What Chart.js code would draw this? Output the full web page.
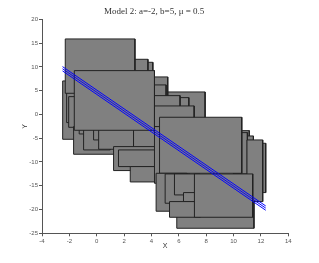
<!DOCTYPE html>
<html>
<head>
<meta charset="utf-8">
<script src="https://cdn.jsdelivr.net/npm/chart.js@4"></script>
<style>
  html, body { margin: 0; padding: 0; background: #fff; }
  canvas { display: block; }
</style>
</head>
<body>
<canvas id="chart" width="319" height="263"></canvas>
<script>
/* Model 2 boxes: rectangles listed back to front */

const rectX0 = [5.85, 11.2, 9.99, 9.99, 9.99, 10.98, 4.0, 3.66, 3.66, 5.61, 4.15, 4.15,
    2.69, 2.20, -2.49, -2.20, -2.05, -2.30, -1.69, -1.28, -0.96, -0.23, 0.14, 2.69,
    1.23, 1.59, 2.45, 4.22, -1.64, 4.59, 4.34, 5.00, 5.68, 6.34, 5.32, 7.14];
const rectX1 = [11.49, 12.35, 11.15, 11.45, 11.01, 12.13, 7.92, 5.19, 5.07, 6.73, 6.09, 7.12,
    4.10, 3.74, 0.26, 0.26, 0.26, 2.79, 1.35, -0.72, 0.99, 0.26, 2.69, 4.39,
    4.39, 4.39, 4.39, 6.58, 4.22, 10.60, 6.58, 6.82, 7.55, 7.55, 7.55, 11.40];
const rectY0 = [-23.94, -16.44, -10.0, -12.52, -12.52, -18.33, -6.77, 0.94, 0.94, 0.94, 0.94, -3.9,
    3.04, 3.04, -5.23, -1.72, -2.71, 4.44, -8.38, -4.11, -7.47, -5.37, -7.33, -8.03,
    -11.81, -10.97, -14.20, -14.48, -3.34, -12.38, -20.36, -18.68, -16.93, -18.33, -21.63, -21.63];
const rectY1 = [-17.98, -6.07, -3.41, -4.53, -3.83, -5.37, 4.72, 7.88, 6.20, 3.53, 3.95, 1.78,
    10.96, 11.59, 7.04, 5.14, 3.74, 15.87, -2.56, -2.56, -2.56, -2.56, -2.56, -2.56,
    -6.77, -7.47, -10.97, -2.56, 9.21, -0.60, -12.38, -12.52, -12.52, -16.44, -18.33, -12.52];

// fitted line and its band
const lineX = [-2.5, 12.35];
const lineYUpper = [10.05, -19.25];
const lineYMid = [9.6, -19.7];
const lineYLower = [9.15, -20.15];

const xMin = -4, xMax = 14, xStep = 2;
const yMin = -25, yMax = 20, yStep = 5;

const AXIS_COLOR = "#555";

const rectSets = rectX0.map((x0, i) => ({
    data: [
        { x: x0, y: rectY0[i] },
        { x: x0, y: rectY1[i] },
        { x: rectX1[i], y: rectY1[i] },
        { x: rectX1[i], y: rectY0[i] },
        { x: x0, y: rectY0[i] }
    ],
    showLine: true,
    fill: "shape",
    backgroundColor: "#808080",
    borderColor: "#222",
    borderWidth: 1,
    borderJoinStyle: "miter",
    pointRadius: 0,
    order: -i
}));

const lineSets = [lineYUpper, lineYMid, lineYLower].map(ys => ({
    data: lineX.map((x, j) => ({ x, y: ys[j] })),
    showLine: true,
    fill: false,
    borderColor: "#0000ff",
    borderWidth: 1,
    pointRadius: 0,
    order: -100
}));

new Chart(document.getElementById("chart"), {
    type: "scatter",
    data: { datasets: [...rectSets, ...lineSets] },
    options: {
        responsive: false,
        animation: false,
        layout: { padding: { left: 20, right: 30.7, top: 0, bottom: 10 } },
        plugins: {
            legend: { display: false },
            tooltip: { enabled: false },
            title: {
                display: true,
                text: "Model 2: a=-2, b=5, \u03bc = 0.5",
                color: "#333",
                font: { family: "Liberation Serif", size: 9, weight: "normal" },
                padding: { top: 6, bottom: 2.5 }
            }
        },
        scales: {
            x: {
                type: "linear",
                min: xMin,
                max: xMax,
                ticks: {
                    stepSize: xStep,
                    color: AXIS_COLOR,
                    padding: 1,
                    font: { family: "Liberation Sans", size: 6 }
                },
                grid: { drawOnChartArea: false, drawTicks: true, tickLength: 3, color: AXIS_COLOR },
                border: { display: true, color: AXIS_COLOR },
                title: {
                    display: true,
                    text: "X",
                    color: "#333",
                    font: { family: "Liberation Sans", size: 7 },
                    padding: { top: 0, bottom: 3 }
                },
                afterFit: (scale) => { scale.height = 19.7; }
            },
            y: {
                type: "linear",
                min: yMin,
                max: yMax,
                ticks: {
                    stepSize: yStep,
                    color: AXIS_COLOR,
                    padding: 1,
                    font: { family: "Liberation Sans", size: 6 }
                },
                grid: { drawOnChartArea: false, drawTicks: true, tickLength: 3, color: AXIS_COLOR },
                border: { display: true, color: AXIS_COLOR },
                title: {
                    display: true,
                    text: "Y",
                    color: "#333",
                    font: { family: "Liberation Sans", size: 7 },
                    padding: { top: 1, bottom: 0 }
                },
                afterFit: (scale) => { scale.width = 22; }
            }
        }
    }
});
</script>
</body>
</html>
